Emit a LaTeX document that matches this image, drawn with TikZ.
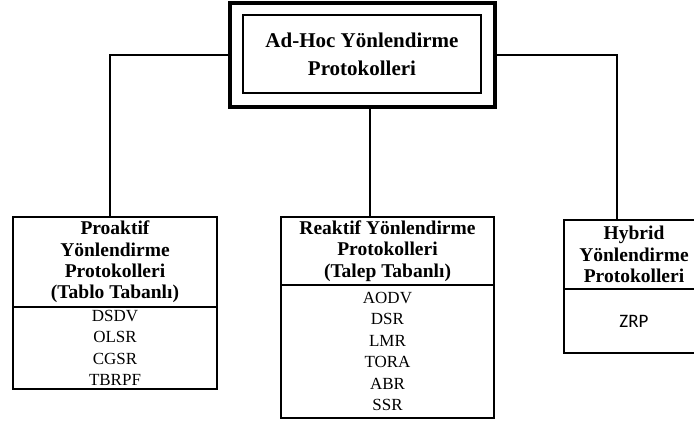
\documentclass[tikz,border=0pt]{standalone}
\usepackage{fontspec}
\setmainfont{Liberation Serif}
\newfontfamily\zrpfont{Carlito}
\begin{document}
\begin{tikzpicture}[x=1pt,y=-1pt,
  frame/.style={draw=black,rectangle,inner sep=0pt,align=center,line width=2.2pt},
  headtext/.style={font=\bfseries\fontsize{19.5}{21.4}\selectfont},
  itemtext/.style={font=\fontsize{17}{21.4}\selectfont},
  link/.style={draw=black,line width=1.9pt}]
\useasboundingbox (0,0) rectangle (694,421);
\clip (0,0) rectangle (694,421);
\fill[white] (0,0) rectangle (694,421);

% root: double frame
\node[frame,line width=3.2pt,minimum width=265pt,minimum height=104pt] (outer) at (362.5,55) {};
\node[frame,line width=2.8pt,minimum width=238pt,minimum height=78pt,
      font=\bfseries\fontsize{21}{28}\selectfont] (root) at (362,54)
      {Ad-Hoc Yönlendirme\\Protokolleri};

% proactive
\node[frame,minimum width=204pt,minimum height=90pt,headtext] (ltitle) at (115,262)
  {Proaktif\\Yönlendirme\\Protokolleri\\(Tablo Tabanlı)};
\node[frame,minimum width=204pt,minimum height=82pt,itemtext] (litems) at (115,348)
  {DSDV\\OLSR\\CGSR\\TBRPF};

% reactive
\node[frame,minimum width=213pt,minimum height=68pt,headtext] (mtitle) at (387.5,251)
  {Reaktif Yönlendirme\\Protokolleri\\(Talep Tabanlı)};
\node[frame,minimum width=213pt,minimum height=133pt,itemtext] (mitems) at (387.5,351.5)
  {AODV\\DSR\\LMR\\TORA\\ABR\\SSR};

% hybrid
\node[frame,minimum width=140pt,minimum height=69pt,headtext] (htitle) at (634,254.5)
  {Hybrid\\Yönlendirme\\Protokolleri};
\node[frame,minimum width=140pt,minimum height=64pt,
      font=\zrpfont\fontsize{19}{22}\selectfont] (hitems) at (634,321) {ZRP};

% connectors
\draw[link] (outer.west) -| ([xshift=-5pt]ltitle.north);
\draw[link] (outer.east) -| ([xshift=-17pt]htitle.north);
\draw[link] ([xshift=-17.5pt]mtitle.north |- outer.south) -- ([xshift=-17.5pt]mtitle.north);
\end{tikzpicture}
\end{document}
